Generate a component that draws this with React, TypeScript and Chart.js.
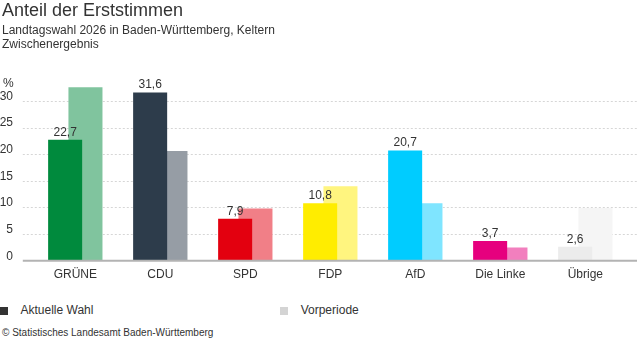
import React, { useEffect, useRef } from "react";
import { Chart, registerables } from "chart.js";

Chart.register(...registerables);

const categories = ["GRÜNE", "CDU", "SPD", "FDP", "AfD", "Die Linke", "Übrige"];
const currentValues = [22.7, 31.6, 7.9, 10.8, 20.7, 3.7, 2.6];
const previousValues = [32.6, 20.6, 9.8, 14.0, 10.8, 2.5, 9.9];
const currentColors = ["#008a3d", "#2d3c4b", "#e3000f", "#ffed00", "#00ccff", "#e6007e", "#ececec"];
const previousColors = ["#80c49e", "#969da5", "#f17f87", "#fff57f", "#7fe5ff", "#f27fbe", "#f5f5f5"];
const yTicks = [0, 5, 10, 15, 20, 25, 30];
const seriesLabels = ["Aktuelle Wahl", "Vorperiode"];
const legendColors = ["#333333", "#d4d4d4"];

const FONT = "'Liberation Sans', Arial, Helvetica, sans-serif";
const TEXT = "#333333";

function fmt(v: number): string {
  return v.toFixed(1).replace(".", ",");
}

const extraPlugin = {
  id: "extras",
  beforeDatasetsDraw(chart: any) {
    const ctx = chart.ctx;
    const y = chart.scales.y;
    const area = chart.chartArea;
    ctx.save();
    ctx.strokeStyle = "#d6d6d6";
    ctx.lineWidth = 1;
    ctx.setLineDash([2, 2]);
    yTicks.forEach((v) => {
      if (v === 0) return;
      const py = Math.round(y.getPixelForValue(v)) + 0.5;
      ctx.beginPath();
      ctx.moveTo(area.left - 10, py);
      ctx.lineTo(chart.width, py);
      ctx.stroke();
    });
    ctx.restore();
  },
  afterDatasetsDraw(chart: any) {
    const ctx = chart.ctx;
    const y = chart.scales.y;
    const area = chart.chartArea;
    ctx.save();
    ctx.strokeStyle = "#b3b3b3";
    ctx.lineWidth = 2;
    const py = y.getPixelForValue(0);
    ctx.beginPath();
    ctx.moveTo(area.left - 10, py);
    ctx.lineTo(chart.width, py);
    ctx.stroke();

    const meta = chart.getDatasetMeta(0);
    ctx.fillStyle = TEXT;
    ctx.font = `12px ${FONT}`;
    ctx.textAlign = "center";
    ctx.textBaseline = "alphabetic";
    meta.data.forEach((bar: any, i: number) => {
      ctx.fillText(fmt(currentValues[i]), bar.x, bar.y - 4);
    });
    ctx.restore();
  },
};

function Txt(props: { x: number; baseline: number; size: number; children: React.ReactNode; color?: string }) {
  const top = props.baseline - props.size * 0.8465;
  return (
    <div
      style={{
        position: "absolute",
        left: props.x,
        top,
        fontSize: props.size,
        lineHeight: `${props.size}px`,
        fontFamily: FONT,
        color: props.color || TEXT,
        whiteSpace: "nowrap",
      }}
    >
      {props.children}
    </div>
  );
}

export default function App() {
  const canvasRef = useRef<HTMLCanvasElement | null>(null);

  useEffect(() => {
    if (!canvasRef.current) return;
    Chart.defaults.font.family = FONT;
    const chart = new Chart(canvasRef.current, {
      type: "bar",
      data: {
        labels: categories,
        datasets: [
          {
            label: seriesLabels[0],
            data: currentValues,
            backgroundColor: currentColors,
            borderWidth: 0,
            categoryPercentage: 0.478,
            barPercentage: 1.675,
          },
          {
            label: seriesLabels[1],
            data: previousValues,
            backgroundColor: previousColors,
            borderWidth: 0,
            categoryPercentage: 0.478,
            barPercentage: 1.675,
          },
        ],
      },
      options: {
        animation: false,
        responsive: false,
        maintainAspectRatio: false,
        devicePixelRatio: 1,
        layout: { padding: { top: 85, right: 9.2, left: 0, bottom: 0 } },
        plugins: {
          legend: { display: false },
          tooltip: { enabled: false },
        },
        scales: {
          x: {
            offset: true,
            grid: { display: false, drawTicks: false },
            border: { display: false },
            ticks: {
              color: TEXT,
              font: { size: 12, family: FONT },
              padding: 6.5,
              maxRotation: 0,
              autoSkip: false,
            },
            afterFit: (s: any) => {
              s.height = 29.3;
            },
          },
          y: {
            min: 0,
            max: 33,
            grid: { display: false, drawTicks: false },
            border: { display: false },
            ticks: {
              stepSize: 5,
              color: TEXT,
              font: { size: 12, family: FONT },
              padding: 19.8,
              labelOffset: -4.5,
            },
            afterBuildTicks: (s: any) => {
              s.ticks = yTicks.map((v) => ({ value: v }));
            },
            afterFit: (s: any) => {
              s.width = 32.8;
            },
          },
        },
      },
      plugins: [extraPlugin],
    } as any);
    return () => chart.destroy();
  }, []);

  return (
    <div style={{ position: "fixed", left: 0, top: 0, width: 637, height: 352, background: "#fff", overflow: "hidden" }}>
      <canvas ref={canvasRef} width={637} height={290} style={{ position: "absolute", left: 0, top: 0, width: 637, height: 290 }} />
      <Txt x={2} baseline={16.7} size={18}>Anteil der Erststimmen</Txt>
      <Txt x={2} baseline={34} size={12}>Landtagswahl 2026 in Baden-Württemberg, Keltern</Txt>
      <Txt x={2} baseline={47.8} size={12}>Zwischenergebnis</Txt>
      <Txt x={3} baseline={86.7} size={12}>%</Txt>
      <div style={{ position: "absolute", left: 0, top: 306.5, width: 8, height: 8, background: legendColors[0] }} />
      <Txt x={20.5} baseline={314} size={12}>{seriesLabels[0]}</Txt>
      <div style={{ position: "absolute", left: 280, top: 306.5, width: 8, height: 8, background: legendColors[1] }} />
      <Txt x={300.7} baseline={314} size={12}>{seriesLabels[1]}</Txt>
      <Txt x={2} baseline={336.7} size={10}>© Statistisches Landesamt Baden-Württemberg</Txt>
    </div>
  );
}
